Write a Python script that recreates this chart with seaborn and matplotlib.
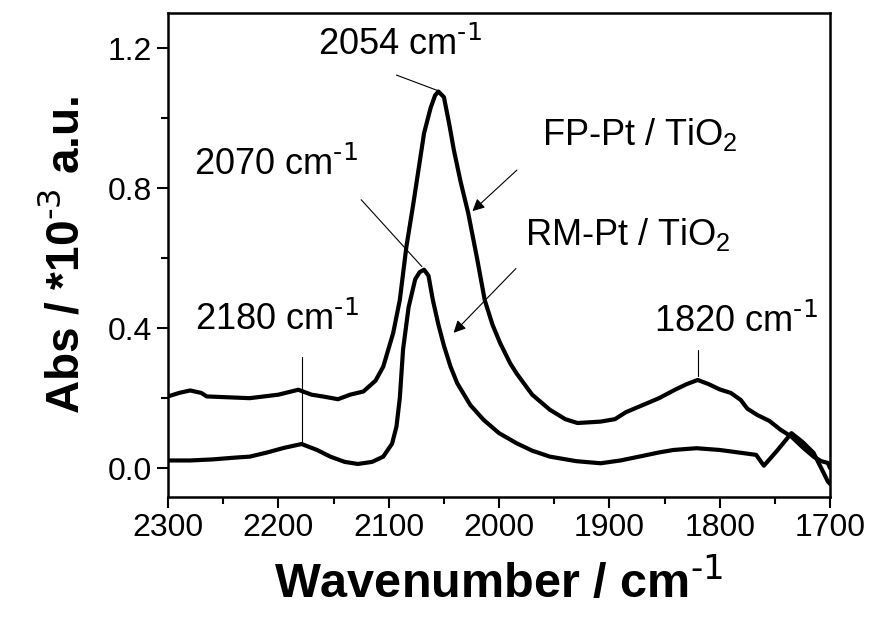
import numpy as np
import pandas as pd
import matplotlib
matplotlib.use("Agg")
import matplotlib.pyplot as plt
import seaborn as sns
from matplotlib.ticker import MultipleLocator

# ---- data ----
fp_wn = [2300, 2290, 2280, 2270, 2265, 2250, 2226, 2200, 2182, 2170, 2160, 2146, 2135, 2123,
         2112, 2105, 2096, 2090, 2084, 2078, 2068, 2062, 2058, 2055, 2050, 2045, 2041, 2035,
         2028, 2020, 2013, 2006, 1999, 1990, 1984, 1970, 1954, 1940, 1929, 1908, 1895, 1885,
         1870, 1855, 1840, 1830, 1820, 1810, 1800, 1790, 1781, 1775, 1766, 1755, 1745, 1735,
         1725, 1715, 1708, 1702, 1700]
fp_abs = [0.205, 0.215, 0.222, 0.215, 0.205, 0.203, 0.200, 0.210, 0.224, 0.210, 0.205, 0.197,
          0.210, 0.219, 0.250, 0.290, 0.386, 0.480, 0.633, 0.750, 0.957, 1.030, 1.065, 1.076,
          1.060, 0.980, 0.909, 0.820, 0.729, 0.600, 0.480, 0.410, 0.357, 0.300, 0.270, 0.210,
          0.167, 0.140, 0.129, 0.133, 0.140, 0.160, 0.180, 0.200, 0.225, 0.240, 0.252, 0.240,
          0.225, 0.215, 0.195, 0.170, 0.152, 0.135, 0.110, 0.090, 0.060, 0.033, 0.020, 0.015,
          0.000]

rm_wn = [2300, 2280, 2260, 2240, 2226, 2210, 2195, 2179, 2165, 2153, 2140, 2128, 2115, 2105,
         2097, 2093, 2090, 2087, 2082, 2076, 2072, 2068, 2064, 2060, 2055, 2050, 2044, 2038,
         2026, 2014, 2000, 1984, 1970, 1954, 1930, 1908, 1890, 1870, 1855, 1842, 1821, 1800,
         1788, 1767, 1760, 1748, 1735, 1725, 1715, 1708, 1702, 1700]
rm_abs = [0.022, 0.022, 0.025, 0.030, 0.033, 0.045, 0.058, 0.069, 0.052, 0.033, 0.018, 0.012,
          0.018, 0.033, 0.070, 0.119, 0.200, 0.340, 0.460, 0.540, 0.560, 0.567, 0.550, 0.480,
          0.410, 0.350, 0.290, 0.243, 0.180, 0.138, 0.100, 0.071, 0.050, 0.033, 0.020, 0.014,
          0.022, 0.035, 0.045, 0.052, 0.057, 0.052, 0.047, 0.038, 0.007, 0.050, 0.100, 0.075,
          0.044, 0.000, -0.038, -0.045]

x_ticks = [2300, 2200, 2100, 2000, 1900, 1800, 1700]
y_ticks = [0.0, 0.4, 0.8, 1.2]

fp_df = pd.DataFrame({"wn": fp_wn, "abs": fp_abs})
rm_df = pd.DataFrame({"wn": rm_wn, "abs": rm_abs})

sns.set_theme(style="ticks")
plt.rcParams["font.family"] = ["Liberation Sans", "DejaVu Sans"]
plt.rcParams["mathtext.default"] = "regular"
plt.rcParams["text.color"] = "black"
plt.rcParams["axes.labelcolor"] = "black"

fig = plt.figure(figsize=(8.71, 6.25), dpi=100)
ax = fig.add_axes([0.193, 0.205, 0.760, 0.774])

sns.lineplot(data=fp_df, x="wn", y="abs", sort=False, color="black", lw=3, ax=ax)
sns.lineplot(data=rm_df, x="wn", y="abs", sort=False, color="black", lw=3, ax=ax)

ax.set_xlim(2300, 1700)
ax.set_ylim(-0.082, 1.30)
ax.set_xticks(x_ticks)
ax.set_yticks(y_ticks)
ax.set_yticklabels([f"{v:.1f}" for v in y_ticks])
ax.xaxis.set_minor_locator(MultipleLocator(50))
ax.yaxis.set_minor_locator(MultipleLocator(0.2))
ax.tick_params(which="major", direction="out", length=8, width=1.5, labelsize=23, colors="black")
ax.tick_params(which="minor", direction="out", length=5, width=1.5, colors="black")
for s in ax.spines.values():
    s.set_linewidth(1.8)
    s.set_color("black")
    s.set_visible(True)

sup1 = r"$^{\text{-1}}$"
ax.set_xlabel("Wavenumber / cm" + sup1, fontsize=35, fontweight="bold", labelpad=12, color="black")
ax.set_ylabel(r"Abs / *10$^{\text{-3}}$ a.u.", fontsize=33, fontweight="bold", labelpad=14, color="black")

fs = 26
ax.text(2090, 1.21, "2054 cm" + sup1, fontsize=fs, ha="center", va="center", color="black")
ax.plot([2093, 2055], [1.123, 1.078], color="black", lw=0.8)
ax.text(2202, 0.867, "2070 cm" + sup1, fontsize=fs, ha="center", va="center", color="black")
ax.plot([2125, 2070], [0.767, 0.576], color="black", lw=0.8)
ax.text(1872, 0.953, "FP-Pt / TiO$_2$", fontsize=fs, ha="center", va="center", color="black")
ax.annotate("", xy=(2026, 0.729), xytext=(1982, 0.857),
            arrowprops=dict(arrowstyle="-|>", color="black", lw=0.8, mutation_scale=18))
ax.text(1883, 0.667, "RM-Pt / TiO$_2$", fontsize=fs, ha="center", va="center", color="black")
ax.annotate("", xy=(2043, 0.381), xytext=(1983, 0.576),
            arrowprops=dict(arrowstyle="-|>", color="black", lw=0.8, mutation_scale=18))
ax.text(2201, 0.424, "2180 cm" + sup1, fontsize=fs, ha="center", va="center", color="black")
ax.plot([2179, 2179], [0.318, 0.07], color="black", lw=0.8)
ax.text(1785, 0.418, "1820 cm" + sup1, fontsize=fs, ha="center", va="center", color="black")
ax.plot([1820, 1820], [0.338, 0.262], color="black", lw=0.8)

fig.savefig("out.png", dpi=100)
